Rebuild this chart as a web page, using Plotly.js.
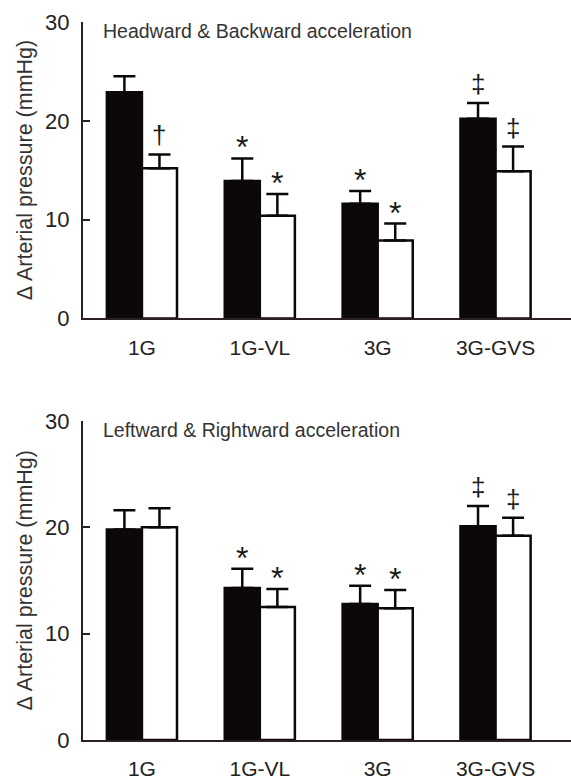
<!DOCTYPE html>
<html>
<head>
<meta charset="utf-8">
<script src="https://cdn.plot.ly/plotly-3.0.1.min.js"></script>
<style>html,body{margin:0;padding:0;background:#fff;}#chart{width:571px;height:780px;}</style>
</head>
<body>
<div id="chart"></div>
<script>
// ---- data ----
const categories = ['1G', '1G-VL', '3G', '3G-GVS'];
const panelTitles = ['Headward & Backward acceleration', 'Leftward & Rightward acceleration'];
const yTickVals = [0, 10, 20, 30];

const headBlack = [22.9, 13.9, 11.6, 20.2];
const headBlackErr = [1.6, 2.3, 1.3, 1.6];
const headWhite = [15.2, 10.4, 7.9, 14.9];
const headWhiteErr = [1.4, 2.2, 1.7, 2.5];
const headBlackSig = ['', '*', '*', '\u2021'];
const headWhiteSig = ['\u2020', '*', '*', '\u2021'];

const latBlack = [19.8, 14.3, 12.8, 20.1];
const latBlackErr = [1.8, 1.8, 1.7, 1.9];
const latWhite = [20.0, 12.5, 12.4, 19.2];
const latWhiteErr = [1.8, 1.7, 1.7, 1.7];
const latBlackSig = ['', '*', '*', '\u2021'];
const latWhiteSig = ['', '*', '*', '\u2021'];

// ---- styling ----
const INK = '#0c0809';
const AXC = '#2a2020';
const FONT = 'Liberation Sans, Arial, Helvetica, sans-serif';
const BARGAP = 0.405;

function barTrace(vals, errs, fill, xa, ya) {
  return {
    type: 'bar', x: categories, y: vals, xaxis: xa, yaxis: ya,
    marker: {color: fill, line: {color: INK, width: 2.5}},
    error_y: {type: 'data', array: errs, arrayminus: errs.map(() => 0), symmetric: false,
              color: INK, thickness: 2.5, width: 11},
    showlegend: false, hoverinfo: 'skip'
  };
}

const data = [
  barTrace(headBlack, headBlackErr, INK, 'x', 'y'),
  barTrace(headWhite, headWhiteErr, '#ffffff', 'x', 'y'),
  barTrace(latBlack, latBlackErr, INK, 'x2', 'y2'),
  barTrace(latWhite, latWhiteErr, '#ffffff', 'x2', 'y2')
];

const off = (1 - BARGAP) / 4;
const annotations = [];
function addSig(sig, vals, errs, side, xa, ya) {
  sig.forEach((s, i) => {
    if (!s) return;
    const isStar = s === '*';
    annotations.push({
      x: i + side * off, y: vals[i] + errs[i], xref: xa, yref: ya,
      text: s, showarrow: false, xanchor: 'center', yanchor: 'bottom',
      yshift: isStar ? -9 : 2,
      font: {family: FONT, size: isStar ? 32 : 26, color: '#1a1a1a'}
    });
  });
}
addSig(headBlackSig, headBlack, headBlackErr, -1, 'x', 'y');
addSig(headWhiteSig, headWhite, headWhiteErr, 1, 'x', 'y');
addSig(latBlackSig, latBlack, latBlackErr, -1, 'x2', 'y2');
addSig(latWhiteSig, latWhite, latWhiteErr, 1, 'x2', 'y2');

const domTop = [0.5941, 0.9842];
const domBot = [0.0395, 0.4592];
[[panelTitles[0], domTop], [panelTitles[1], domBot]].forEach(([t, d]) => {
  annotations.push({
    text: t, xref: 'paper', yref: 'paper', x: 0, y: d[1], xshift: 18, yshift: -9,
    xanchor: 'left', yanchor: 'middle', showarrow: false,
    font: {family: FONT, size: 19.5, color: '#333'}
  });
  annotations.push({
    text: '\u0394 Arterial pressure (mmHg)', xref: 'paper', yref: 'paper',
    x: 0, xshift: -58, y: (d[0] + d[1]) / 2, xanchor: 'center', yanchor: 'middle',
    textangle: -90, showarrow: false,
    font: {family: FONT, size: 21.5, color: '#333'}
  });
});

function xax(dom) {
  return {
    domain: [0, 1], anchor: dom, type: 'category', range: [-0.5, 3.64],
    showline: true, linecolor: AXC, linewidth: 2, ticks: '', showgrid: false, zeroline: false,
    tickfont: {family: FONT, size: 21, color: '#222'}, ticklabelstandoff: 9, fixedrange: true
  };
}
function yax(dom, xa) {
  return {
    domain: dom, anchor: xa, range: [0, 30], tickvals: yTickVals,
    showline: true, linecolor: AXC, linewidth: 2, ticks: 'inside', ticklen: 7, tickwidth: 2,
    tickcolor: AXC, showgrid: false, zeroline: false,
    tickfont: {family: FONT, size: 22, color: '#222'}, ticklabelstandoff: 7, fixedrange: true
  };
}

const layout = {
  width: 571, height: 780,
  margin: {l: 83, r: 0, t: 10, b: 10},
  paper_bgcolor: '#ffffff', plot_bgcolor: '#ffffff',
  barmode: 'group', bargap: BARGAP, bargroupgap: 0,
  xaxis: xax('y'), yaxis: yax(domTop, 'x'),
  xaxis2: xax('y2'), yaxis2: yax(domBot, 'x2'),
  annotations: annotations,
  showlegend: false
};

Plotly.newPlot('chart', data, layout, {displayModeBar: false, staticPlot: true});
</script>
</body>
</html>
